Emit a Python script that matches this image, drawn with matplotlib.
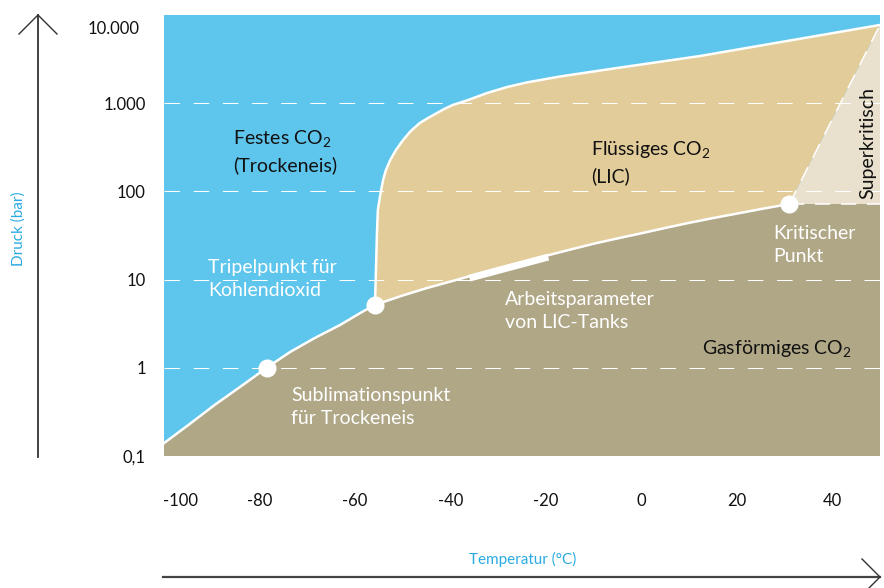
import matplotlib

matplotlib.use("Agg")
import matplotlib.pyplot as plt
from matplotlib.transforms import ScaledTranslation

plt.rcParams["font.family"] = ["Lato", "DejaVu Sans"]
plt.rcParams["mathtext.fontset"] = "custom"
plt.rcParams["mathtext.rm"] = "Lato"
plt.rcParams["mathtext.it"] = "Lato:italic"

# phase boundaries (temperature in degC, pressure in bar)
sub_T = [-100, -94.6, -89.4, -84.1, -78.5, -73.6, -68.4, -63.1, -58.9, -55.8]
sub_P = [0.14, 0.231, 0.379, 0.605, 1.0, 1.51, 2.18, 3.06, 4.18, 5.18]

vap_T = [-55.8, -50, -45, -40, -35, -30, -25, -20, -15, -10, -5, 0, 5, 10, 15, 20, 25, 31]
vap_P = [5.18, 6.6, 8.0, 9.5, 11.3, 13.4, 15.8, 18.6, 21.8, 25.5, 29.3, 33.5, 38.5, 44.0,
         49.8, 56.0, 63.0, 72.0]

melt_T = [-55.8, -55.6, -55.4, -55.2, -54.7, -54.1, -53.5, -52.6, -51.4, -49.9, -48.3,
          -46.4, -44.7, -42.8, -41.1, -39.5, -36.3, -32.3, -28.1, -24.0, -17.0, -5.1,
          12.3, 50]
melt_P = [5.18, 12.9, 32, 61.5, 91, 135, 175, 227, 295, 383, 484,
          597, 679, 775, 871, 955, 1086, 1306, 1527, 1720, 2010, 2506,
          3428, 7710]

crit_T, crit_P = 31, 72.0
op_T = [-36, -19.5]
op_P = [10.4, 18.0]
points_T = [-78.5, -55.8, 31]
points_P = [1.0, 5.18, 72.0]

x_ticks = [-100, -80, -60, -40, -20, 0, 20, 40]
x_labels = ["-100", "-80", "-60", "-40", "-20", "0", "20", "40"]
y_ticks = [0.1, 1, 10, 100, 1000, 10000]
y_labels = ["0,1", "1", "10", "100", "1.000", "10.000"]
grid_P = [1, 10, 100, 1000]

c_solid = "#5ec5ec"
c_liquid = "#e2cc99"
c_gas = "#b0a787"
c_super = "#e9e1ce"
c_label = "#29abe2"

fig = plt.figure(figsize=(8.84, 5.88), dpi=100)
ax = fig.add_axes([164 / 884, 132 / 588, 716 / 884, 441 / 588])
ax.set_yscale("log")
ax.set_xlim(-100, 50)
ax.set_ylim(0.1, 10000)
ax.set_facecolor(c_solid)
for s in ax.spines.values():
    s.set_visible(False)

# regions
gas_T = sub_T + vap_T[1:] + [50, 50, -100]
gas_P = sub_P + vap_P[1:] + [crit_P, 0.1, 0.1]
ax.fill(gas_T, gas_P, color=c_gas, lw=0, zorder=1)

liq_T = melt_T + [crit_T] + vap_T[::-1]
liq_P = melt_P + [crit_P] + vap_P[::-1]
ax.fill(liq_T, liq_P, color=c_liquid, lw=0, zorder=1)

ax.fill([crit_T, melt_T[-1], 50], [crit_P, melt_P[-1], crit_P], color=c_super, lw=0, zorder=1)

# grid lines
for p in grid_P:
    ax.axhline(p, color="white", lw=0.75, linestyle=(0, (15, 13)), zorder=2)

# boundaries
line = dict(color="white", lw=1.8, zorder=3, solid_joinstyle="round")
ax.plot(sub_T, sub_P, **line)
ax.plot(vap_T, vap_P, **line)
ax.plot(melt_T, melt_P, **line)
ax.plot([crit_T, melt_T[-1]], [crit_P, melt_P[-1]], color="white", lw=1.1,
        linestyle=(0, (10, 7)), zorder=3)
ax.plot([crit_T, 50], [crit_P, crit_P], color="white", lw=1.1,
        linestyle=(0, (10, 7)), zorder=3)
ax.plot(op_T, op_P, color="white", lw=5, solid_capstyle="butt", zorder=4)
ax.plot(points_T, points_P, "o", color="white", markersize=13, markeredgewidth=0, zorder=5)

# ticks
ax.set_xticks(x_ticks)
ax.set_xticklabels(x_labels)
ax.set_yticks(y_ticks)
ax.set_yticklabels(y_labels)
ax.minorticks_off()
ax.tick_params(axis="x", length=0, pad=27, labelsize=12, labelcolor="#111111")
ax.tick_params(axis="y", length=0, pad=13, labelsize=12, labelcolor="#111111")
xl = ax.get_xticklabels()
xl[0].set_transform(xl[0].get_transform() + ScaledTranslation(0.17, 0, fig.dpi_scale_trans))
yl = ax.get_yticklabels()
yl[-1].set_transform(yl[-1].get_transform() + ScaledTranslation(-0.06, -0.12, fig.dpi_scale_trans))

# region labels
txt = dict(fontsize=14, ha="left", va="center", linespacing=1.45, zorder=6)
ax.text(-85.5, 287, "Festes CO$_\\mathrm{2}$\n(Trockeneis)", color="#111111", **txt)
ax.text(-10.5, 215, "Flüssiges CO$_\\mathrm{2}$\n(LIC)", color="#111111", **txt)
ax.text(-90.8, 10.2, "Tripelpunkt für\nKohlendioxid", color="white", **txt)
ax.text(-73.4, 0.36, "Sublimationspunkt\nfür Trockeneis", color="white", **txt)
ax.text(-28.6, 4.4, "Arbeitsparameter\nvon LIC-Tanks", color="white", **txt)
ax.text(27.6, 24.7, "Kritischer\nPunkt", color="white", **txt)
ax.text(12.7, 1.67, "Gasförmiges CO$_\\mathrm{2}$", color="#111111", fontsize=14,
        ha="left", va="center", zorder=6)
ax.text(47.4, 354, "Superkritisch", color="#111111", fontsize=14, rotation=90,
        ha="center", va="center", zorder=6)

# axis arrows and titles
ov = fig.add_axes([0, 0, 1, 1])
ov.set_xlim(0, 884)
ov.set_ylim(588, 0)
ov.axis("off")
ov.patch.set_alpha(0)
ov.plot([38, 38], [457, 15], color="#333333", lw=1.3)
ov.plot([19, 38, 57], [34, 15, 34], color="#333333", lw=1.0)
ov.plot([163, 880], [577, 577], color="#444444", lw=1.6)
ov.plot([862, 880, 862], [559, 577, 595], color="#333333", lw=1.0)

fig.text(19 / 884, 1 - 229 / 588, "Druck (bar)", color=c_label, fontsize=11,
         rotation=90, ha="center", va="center")
fig.text(523 / 884, 1 - 559 / 588, "Temperatur (°C)", color=c_label, fontsize=11,
         ha="center", va="center")

fig.savefig("out.png", dpi=100)
